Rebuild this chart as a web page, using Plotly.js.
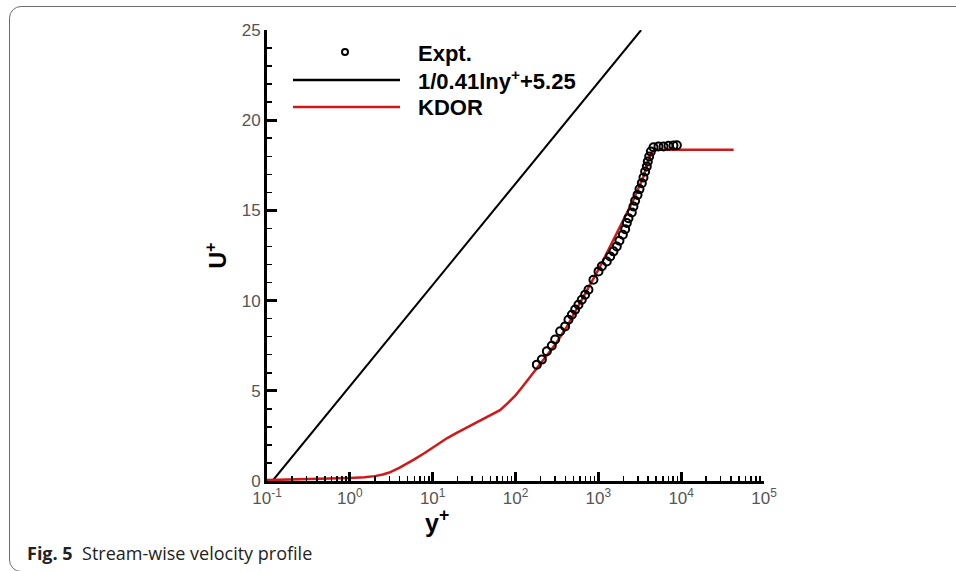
<!DOCTYPE html>
<html>
<head>
<meta charset="utf-8">
<script src="https://cdn.plot.ly/plotly-3.0.1.min.js"></script>
<style>
  html, body { margin: 0; padding: 0; background: #fff; }
  #wrap { position: relative; width: 956px; height: 571px; overflow: hidden; }
  #chart { width: 956px; height: 571px; }
  #frame { position: absolute; left: 9px; top: 6px; width: 1000px; height: 564px;
           border: 1.5px solid #6e6e6e; border-radius: 12px; pointer-events: none; }
</style>
</head>
<body>
<div id="wrap">
  <div id="chart"></div>
  <div id="frame"></div>
</div>
<script>
// ---- Data ----
const exptYplus = [181, 208, 239, 274, 301, 346, 397, 436, 479, 525, 575, 631, 693, 760, 873,
  1005, 1102, 1265, 1390, 1524, 1671, 1799, 1977, 2109, 2208, 2312, 2535, 2655, 2780, 2972,
  3141, 3350, 3508, 3673, 3846, 3954, 4111, 4305, 4634, 5321, 6124, 7031, 8072, 8872];
const exptU = [6.45, 6.73, 7.19, 7.50, 7.84, 8.30, 8.57, 8.94, 9.22, 9.50, 9.77, 10.05, 10.33, 10.60, 11.16,
  11.62, 11.90, 12.17, 12.45, 12.73, 13.00, 13.32, 13.65, 13.96, 14.30, 14.57, 14.89, 15.22, 15.53, 15.86,
  16.18, 16.51, 16.82, 17.16, 17.43, 17.71, 17.99, 18.26, 18.50, 18.54, 18.54, 18.58, 18.60, 18.61];

const logLawYplus = [0.1162, 1, 10, 100, 1000, 3287];
const logLawU = [0, 5.25, 10.87, 16.48, 22.10, 25];

const kdorYplus = [0.1, 0.2, 0.5, 1, 1.5, 2, 2.5, 3, 4, 5, 6, 8, 10, 12, 15, 20, 25, 31, 40, 50, 65,
  80, 100, 120, 140, 181, 217, 300, 417, 550, 728, 1052, 1672, 2655, 3507, 4227, 4634, 5200,
  10000, 20000, 43000];
const kdorU = [0.05, 0.08, 0.12, 0.17, 0.21, 0.27, 0.36, 0.47, 0.74, 0.98, 1.2, 1.55, 1.85, 2.1, 2.38, 2.7,
  2.93, 3.15, 3.4, 3.62, 3.93, 4.3, 4.75, 5.2, 5.6, 6.25, 6.75, 7.55, 8.55, 9.55, 10.6, 11.9, 13.74,
  15.59, 16.88, 18.08, 18.32, 18.36, 18.36, 18.36, 18.36];

const xTickVals = [0.1, 1, 10, 100, 1000, 10000, 100000];
const xTickText = ['10<sup>-1</sup>', '10<sup>0</sup>', '10<sup>1</sup>', '10<sup>2</sup>',
  '10<sup>3</sup>', '10<sup>4</sup>', '10<sup>5</sup>'];
const seriesNames = ['Expt.', '1/0.41lny<sup>+</sup>+5.25', 'KDOR'];
const seriesColors = ['#000000', '#000000', '#d01818'];

// ---- Layout geometry (pixels) ----
const W = 956, H = 571;
const M = { l: 267, r: 192, t: 30, b: 90 };
const PW = W - M.l - M.r, PH = H - M.t - M.b;
const px = x => (x - M.l) / PW;          // pixel -> paper x
const py = y => (H - M.b - y) / PH;      // pixel -> paper y

// minor tick values for log axis
const minorVals = [];
for (let i = 0; i < xTickVals.length - 1; i++) {
  for (let k = 2; k <= 9; k++) minorVals.push(xTickVals[i] * k);
}

const FAM = 'Arial, Liberation Sans, sans-serif';

const traces = [
  { x: logLawYplus, y: logLawU, mode: 'lines', name: seriesNames[1],
    line: { color: seriesColors[1], width: 2 }, showlegend: false, xaxis: 'x', yaxis: 'y' },
  { x: kdorYplus, y: kdorU, mode: 'lines', name: seriesNames[2], line: { color: seriesColors[2], width: 2.5 },
    showlegend: false, xaxis: 'x', yaxis: 'y' },
  { x: exptYplus, y: exptU, mode: 'markers', name: seriesNames[0],
    marker: { symbol: 'circle-open', size: 8, color: seriesColors[0], line: { width: 2, color: seriesColors[0] } },
    showlegend: false, xaxis: 'x', yaxis: 'y' },
  // invisible trace to host the minor-tick overlay axis
  { x: [0.1, 100000], y: [0, 0], mode: 'markers', marker: { opacity: 0 }, hoverinfo: 'skip',
    showlegend: false, xaxis: 'x2', yaxis: 'y' }
];

const tickFont = { family: FAM, size: 17, color: '#555' };
const legFont = { family: FAM, size: 22, color: '#000' };

const layout = {
  width: W, height: H,
  margin: M,
  paper_bgcolor: '#fff', plot_bgcolor: '#fff',
  showlegend: false,
  xaxis: {
    type: 'log', range: [-1, 5],
    tickvals: xTickVals, ticktext: xTickText,
    ticks: 'inside', ticklen: 9, tickwidth: 3, tickcolor: '#000',
    showline: true, linewidth: 3, linecolor: '#000', mirror: false,
    showgrid: false, zeroline: false, tickfont: tickFont
  },
  xaxis2: {
    type: 'log', range: [-1, 5], overlaying: 'x', anchor: 'y', side: 'bottom',
    tickvals: minorVals, showticklabels: false,
    ticks: 'inside', ticklen: 5, tickwidth: 1.5, tickcolor: '#000',
    showline: false, showgrid: false, zeroline: false
  },
  yaxis: {
    range: [0, 25], dtick: 5, tick0: 0,
    ticks: 'inside', ticklen: 10, tickwidth: 3, tickcolor: '#000',
    minor: { dtick: 1, ticks: 'inside', ticklen: 5, tickwidth: 1.5, tickcolor: '#000', showgrid: false },
    showline: true, linewidth: 3, linecolor: '#000',
    showgrid: false, zeroline: false, tickfont: tickFont,
    title: { text: '<b>U<sup>+</sup></b>', standoff: 9,
      font: { family: FAM, size: 23, color: '#000' } }
  },
  shapes: [
    { type: 'circle', xref: 'paper', yref: 'paper',
      x0: px(342), x1: px(348), y0: py(55), y1: py(49),
      line: { color: seriesColors[0], width: 2 } },
    { type: 'line', xref: 'paper', yref: 'paper', x0: px(293), x1: px(400), y0: py(80), y1: py(80),
      line: { color: seriesColors[1], width: 2.5 } },
    { type: 'line', xref: 'paper', yref: 'paper', x0: px(293), x1: px(400), y0: py(107), y1: py(107),
      line: { color: seriesColors[2], width: 2.5 } }
  ],
  annotations: [
    { xref: 'paper', yref: 'paper', x: px(416), y: py(53), xanchor: 'left', yanchor: 'middle',
      text: '<b>' + seriesNames[0] + '</b>', showarrow: false, font: legFont },
    { xref: 'paper', yref: 'paper', x: px(416), y: py(80), xanchor: 'left', yanchor: 'middle',
      text: '<b>' + seriesNames[1] + '</b>', showarrow: false, font: legFont },
    { xref: 'paper', yref: 'paper', x: px(416), y: py(107), xanchor: 'left', yanchor: 'middle',
      text: '<b>' + seriesNames[2] + '</b>', showarrow: false, font: legFont },
    { xref: 'paper', yref: 'paper', x: px(437), y: py(521), xanchor: 'center', yanchor: 'middle',
      text: '<b>y<sup>+</sup></b>', showarrow: false,
      font: { family: FAM, size: 25, color: '#000' } },
    { xref: 'paper', yref: 'paper', x: px(25), y: py(553), xanchor: 'left', yanchor: 'middle',
      text: '<b>Fig. 5</b>  Stream-wise velocity profile', showarrow: false,
      font: { family: 'Open Sans, Noto Sans, sans-serif', size: 18, color: '#222' } }
  ]
};

Plotly.newPlot('chart', traces, layout, { staticPlot: true, displayModeBar: false });
</script>
</body>
</html>
